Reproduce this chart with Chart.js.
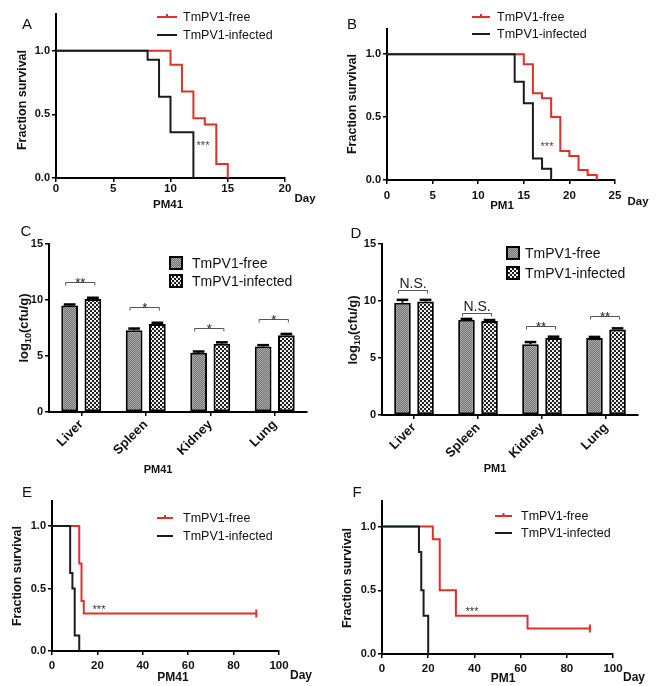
<!DOCTYPE html>
<html><head><meta charset="utf-8">
<script src="https://cdn.jsdelivr.net/npm/chart.js@4.4.1/dist/chart.umd.min.js"></script>
<style>
html,body{margin:0;padding:0;background:#fff;}
#wrap{position:relative;width:660px;height:686px;overflow:hidden;background:#fff;}
canvas{position:absolute;left:0;top:0;}
</style></head><body><div id="wrap">
<canvas id="cA" width="660" height="686"></canvas>
<canvas id="cB" width="660" height="686"></canvas>
<canvas id="cC" width="660" height="686"></canvas>
<canvas id="cD" width="660" height="686"></canvas>
<canvas id="cE" width="660" height="686"></canvas>
<canvas id="cF" width="660" height="686"></canvas>
</div>
<script>
// ---------- DATA ----------
const seriesNames = ['TmPV1-free','TmPV1-infected'];
const survTicks = [0, 0.5, 1.0];
// Panel A (PM41)
const aFreeDays = [0,10,11,12,13,14,15];
const aFreeSurv = [1,0.89,0.68,0.47,0.42,0.11,0];
const aInfDays  = [0,8,9,10,12];
const aInfSurv  = [1,0.93,0.64,0.36,0];
const aDayTicks = [0,5,10,15,20];
// Panel B (PM1)
const bFreeDays = [0,15,16,17,18,19,20,21,22,23];
const bFreeSurv = [1,0.92,0.69,0.65,0.5,0.23,0.19,0.08,0.04,0];
const bInfDays  = [0,14,15,16,17,18];
const bInfSurv  = [1,0.78,0.61,0.17,0.09,0];
const bDayTicks = [0,5,10,15,20,25];
// Panel C (PM41 organ burden)
const organs = ['Liver','Spleen','Kidney','Lung'];
const cfuTicks = [0,5,10,15];
const cFree    = [9.5,7.3,5.3,5.85];
const cInf     = [10.1,7.85,6.1,6.85];
const cFreeErr = [0.1,0.15,0.1,0.12];
const cInfErr  = [0.1,0.12,0.12,0.12];
const cSig      = ['**','*','*','*'];
const cSigLevel = [11.6,9.35,7.5,8.3];
// Panel D (PM1 organ burden)
const dFree    = [9.85,8.35,6.2,6.75];
const dInf     = [9.95,8.25,6.75,7.5];
const dFreeErr = [0.25,0.08,0.2,0.1];
const dInfErr  = [0.15,0.08,0.12,0.1];
const dSig      = ['N.S.','N.S.','**','**'];
const dSigLevel = [10.95,8.95,7.8,8.65];
// Panel E (PM41)
const eFreeDays = [0,12,13,14,90];
const eFreeSurv = [1,0.7,0.4,0.3,0.3];
const eInfDays  = [0,8,9,10,12];
const eInfSurv  = [1,0.625,0.5,0.125,0];
// Panel F (PM1)
const fFreeDays = [0,22,25,32,63,90];
const fFreeSurv = [1,0.9,0.5,0.3,0.2,0.2];
const fInfDays  = [0,16,17,18,20];
const fInfSurv  = [1,0.8,0.5,0.3,0];
const longDayTicks = [0,20,40,60,80,100];

// ---------- STYLE ----------
const FONT = "'Liberation Sans', Arial, 'DejaVu Sans', sans-serif";
const RED = '#e0302a';
const BLK = '#1c1c1c';

function makePattern(cell, c1, c2){
  const p = document.createElement('canvas');
  p.width = cell*2; p.height = cell*2;
  const g = p.getContext('2d');
  g.fillStyle = c1; g.fillRect(0,0,cell*2,cell*2);
  g.fillStyle = c2; g.fillRect(0,0,cell,cell); g.fillRect(cell,cell,cell,cell);
  return document.getElementById('cA').getContext('2d').createPattern(p,'repeat');
}
const patFree = makePattern(1,'#747474','#ababab');
const patInf  = makePattern(2,'#f2f2f2','#1e1e1e');

function pts(xs, ys){ return xs.map((x,i)=>({x:x, y:ys[i]})); }

function drawTexts(ctx, texts){
  texts.forEach(t=>{
    ctx.save();
    ctx.font = (t.bold?'bold ':'') + t.size + 'px ' + FONT;
    ctx.fillStyle = t.color || '#111';
    ctx.textAlign = t.align || 'center';
    ctx.textBaseline = t.base || 'middle';
    ctx.translate(t.x, t.y);
    if (t.rot) ctx.rotate(t.rot);
    ctx.fillText(t.text, 0, 0);
    ctx.restore();
  });
}

// rotated "log10(cfu/g)" with a true subscript
function drawLogTitle(ctx, x, y){
  ctx.save();
  ctx.translate(x, y); ctx.rotate(-Math.PI/2);
  ctx.fillStyle = '#111'; ctx.textBaseline = 'alphabetic'; ctx.textAlign = 'left';
  const big = 'bold 13px ' + FONT, small = 'bold 9px ' + FONT;
  ctx.font = big; const w1 = ctx.measureText('log').width, w3 = ctx.measureText('(cfu/g)').width;
  ctx.font = small; const w2 = ctx.measureText('10').width;
  let cx = -(w1+w2+w3)/2; const by = 5;
  ctx.font = big; ctx.fillText('log', cx, by); cx += w1;
  ctx.font = small; ctx.fillText('10', cx, by+3); cx += w2;
  ctx.font = big; ctx.fillText('(cfu/g)', cx, by);
  ctx.restore();
}

function drawLineLegend(ctx, L){
  ctx.save();
  [[RED, L.y1, seriesNames[0], true],[BLK, L.y2, seriesNames[1], false]].forEach(r=>{
    ctx.strokeStyle = r[0]; ctx.lineWidth = 2;
    ctx.beginPath(); ctx.moveTo(L.x1, r[1]); ctx.lineTo(L.x2, r[1]); ctx.stroke();
    if (r[3]) { const m=(L.x1+L.x2)/2; ctx.beginPath(); ctx.moveTo(m, r[1]); ctx.lineTo(m, r[1]-3); ctx.stroke(); }
    ctx.font = '12.5px ' + FONT; ctx.fillStyle = '#111';
    ctx.textAlign = 'left'; ctx.textBaseline = 'middle';
    ctx.fillText(r[2], L.tx, r[1]+1);
  });
  ctx.restore();
}

function drawBoxLegend(ctx, L){
  ctx.save();
  [[patFree, L.y1, seriesNames[0]],[patInf, L.y2, seriesNames[1]]].forEach(r=>{
    ctx.fillStyle = r[0]; ctx.fillRect(L.x, r[1]-6, 12, 12);
    ctx.strokeStyle = '#000'; ctx.lineWidth = 2; ctx.strokeRect(L.x, r[1]-6, 12, 12);
    ctx.font = '14px ' + FONT; ctx.fillStyle = '#111';
    ctx.textAlign = 'left'; ctx.textBaseline = 'middle';
    ctx.fillText(r[2], L.tx, r[1]+1);
  });
  ctx.restore();
}

function axisCommon(){
  return {
    grid:{display:true, drawOnChartArea:false, drawTicks:true, tickLength:4, color:'#000', lineWidth:1.5},
    border:{display:true, color:'#000', width:2}
  };
}

function survChart(id, o){
  const yw = 40, xh = 30;
  return new Chart(document.getElementById(id), {
    type:'line',
    data:{datasets:[
      {data:pts(o.infDays,o.infSurv), borderColor:BLK, borderWidth:2, stepped:true, pointRadius:0, fill:false, clip:false},
      {data:pts(o.freeDays,o.freeSurv), borderColor:RED, borderWidth:2, stepped:true, fill:false, clip:false,
       pointRadius:(c)=> (o.censor && c.dataIndex===o.freeDays.length-1) ? 4 : 0,
       pointStyle:'line', pointRotation:90, pointBorderColor:RED, pointBorderWidth:2}
    ]},
    options:{
      responsive:false, animation:false, events:[],
      layout:{padding:{left:o.l-yw, top:o.t, right:660-o.r, bottom:686-o.b-xh}},
      plugins:{legend:{display:false}, tooltip:{enabled:false}},
      scales:{
        x:Object.assign({type:'linear', min:0, max:o.xmax,
          afterFit(s){ s.height = xh; },
          afterBuildTicks(s){ s.ticks = o.xticks.map(v=>({value:v})); },
          ticks:{font:{family:FONT,size:11.5,weight:'bold'}, color:'#111', padding:o.xpad, maxRotation:0, autoSkip:false, callback:v=>String(v)}
        }, axisCommon()),
        y:Object.assign({type:'linear', min:0, max:o.ymax,
          afterFit(s){ s.width = yw; },
          afterBuildTicks(s){ s.ticks = survTicks.map(v=>({value:v})); },
          ticks:{font:{family:FONT,size:11,weight:'bold'}, color:'#111', padding:2, autoSkip:false, callback:v=>Number(v).toFixed(1)}
        }, axisCommon())
      }
    },
    plugins:[{id:'decor'+id, afterDraw(chart){ drawTexts(chart.ctx, o.texts); drawLineLegend(chart.ctx, o.legend); }}]
  });
}

function barChart(id, o){
  const yw = 40, xh = 60;
  return new Chart(document.getElementById(id), {
    type:'bar',
    data:{labels:organs, datasets:[
      {data:o.free, backgroundColor:patFree, borderColor:'#000', borderWidth:2, borderSkipped:false, categoryPercentage:0.72, barPercentage:0.72},
      {data:o.inf,  backgroundColor:patInf,  borderColor:'#000', borderWidth:2, borderSkipped:false, categoryPercentage:0.72, barPercentage:0.72}
    ]},
    options:{
      responsive:false, animation:false, events:[],
      layout:{padding:{left:o.l-yw, top:o.t, right:660-o.r, bottom:686-o.b-xh}},
      plugins:{legend:{display:false}, tooltip:{enabled:false}},
      scales:{
        x:Object.assign({type:'category', offset:true,
          afterFit(s){ s.height = xh; },
          ticks:{font:{family:FONT,size:13,weight:'bold'}, color:'#111', padding:1, minRotation:45, maxRotation:45, autoSkip:false}
        }, axisCommon(), {grid:{display:true, offset:false, drawOnChartArea:false, drawTicks:true, tickLength:4, color:'#000', lineWidth:1.5}}),
        y:Object.assign({type:'linear', min:0, max:15,
          afterFit(s){ s.width = yw; },
          afterBuildTicks(s){ s.ticks = cfuTicks.map(v=>({value:v})); },
          ticks:{font:{family:FONT,size:11,weight:'bold'}, color:'#111', padding:2, autoSkip:false, callback:v=>String(v)}
        }, axisCommon())
      }
    },
    plugins:[{id:'decor'+id,
      afterDatasetsDraw(chart){
        const ctx = chart.ctx, ys = chart.scales.y;
        ctx.save();
        [[o.free,o.freeErr],[o.inf,o.infErr]].forEach((s,di)=>{
          chart.getDatasetMeta(di).data.forEach((bar,i)=>{
            const yb = ys.getPixelForValue(s[0][i]);
            const yt = ys.getPixelForValue(s[0][i]+s[1][i]);
            const w = bar.width*0.7;
            ctx.strokeStyle='#000'; ctx.lineWidth=2;
            ctx.beginPath(); ctx.moveTo(bar.x, yb); ctx.lineTo(bar.x, yt); ctx.stroke();
            ctx.lineWidth=2.5;
            ctx.beginPath(); ctx.moveTo(bar.x-w/2, yt); ctx.lineTo(bar.x+w/2, yt); ctx.stroke();
          });
        });
        const m0 = chart.getDatasetMeta(0).data, m1 = chart.getDatasetMeta(1).data;
        o.sig.forEach((lab,i)=>{
          const x1 = m0[i].x-4, x2 = m1[i].x+2, y = Math.round(ys.getPixelForValue(o.sigLevel[i]))+0.5;
          ctx.strokeStyle='#555'; ctx.lineWidth=1;
          ctx.beginPath(); ctx.moveTo(x1,y+3); ctx.lineTo(x1,y); ctx.lineTo(x2,y); ctx.lineTo(x2,y+3); ctx.stroke();
          ctx.fillStyle='#222'; ctx.textAlign='center'; ctx.textBaseline='alphabetic';
          if (lab==='N.S.') { ctx.font='14px '+FONT; ctx.fillText(lab,(x1+x2)/2,y-3); }
          else { ctx.font='13px '+FONT; ctx.fillText(lab,(x1+x2)/2,y+4); }
        });
        ctx.restore();
      },
      afterDraw(chart){ drawTexts(chart.ctx, o.texts); drawLogTitle(chart.ctx, o.titleX, o.titleY); drawBoxLegend(chart.ctx, o.legend); }
    }]
  });
}

const R90 = -Math.PI/2;
survChart('cA', {l:56, r:285, t:14, b:178, xmax:20, ymax:1.29, xticks:aDayTicks, xpad:0,
  freeDays:aFreeDays, freeSurv:aFreeSurv, infDays:aInfDays, infSurv:aInfSurv, censor:false,
  legend:{x1:157, x2:177, tx:183, y1:17, y2:35},
  texts:[
    {text:'A', x:27, y:25, size:15},
    {text:'Fraction survival', x:23, y:100, size:12.5, bold:true, rot:R90},
    {text:'PM41', x:168, y:205, size:11.5, bold:true},
    {text:'Day', x:305, y:199, size:11.5, bold:true},
    {text:'***', x:203, y:149, size:11, color:'#444', base:'alphabetic'}
  ]});
survChart('cB', {l:387, r:615, t:29, b:180, xmax:25, ymax:1.2, xticks:bDayTicks, xpad:5,
  freeDays:bFreeDays, freeSurv:bFreeSurv, infDays:bInfDays, infSurv:bInfSurv, censor:false,
  legend:{x1:472, x2:490, tx:497, y1:17, y2:34},
  texts:[
    {text:'B', x:352, y:25, size:15},
    {text:'Fraction survival', x:353, y:104, size:12.5, bold:true, rot:R90},
    {text:'PM1', x:502, y:206, size:11.5, bold:true},
    {text:'Day', x:638, y:202, size:11.5, bold:true},
    {text:'***', x:547, y:150, size:11, color:'#444', base:'alphabetic'}
  ]});
barChart('cC', {l:49, r:307, t:244, b:412, titleX:23, titleY:328,
  free:cFree, inf:cInf, freeErr:cFreeErr, infErr:cInfErr, sig:cSig, sigLevel:cSigLevel,
  legend:{x:170, tx:192, y1:263, y2:281},
  texts:[
    {text:'C', x:26, y:232, size:15},
    {text:'PM41', x:158, y:470, size:11, bold:true}
  ]});
barChart('cD', {l:382, r:638, t:244, b:415, titleX:352, titleY:330,
  free:dFree, inf:dInf, freeErr:dFreeErr, infErr:dInfErr, sig:dSig, sigLevel:dSigLevel,
  legend:{x:507, tx:525, y1:253, y2:273},
  texts:[
    {text:'D', x:356, y:234, size:15},
    {text:'PM1', x:495, y:469, size:11, bold:true}
  ]});
survChart('cE', {l:52, r:279, t:501, b:651, xmax:100, ymax:1.2, xticks:longDayTicks, xpad:4,
  freeDays:eFreeDays, freeSurv:eFreeSurv, infDays:eInfDays, infSurv:eInfSurv, censor:true,
  legend:{x1:157, x2:173, tx:183, y1:518, y2:536},
  texts:[
    {text:'E', x:27, y:493, size:15},
    {text:'Fraction survival', x:18, y:576, size:12.5, bold:true, rot:R90},
    {text:'PM41', x:173, y:678, size:12, bold:true},
    {text:'Day', x:301, y:676, size:12, bold:true},
    {text:'***', x:99, y:613, size:11, color:'#333', base:'alphabetic'}
  ]});
survChart('cF', {l:382, r:613, t:501, b:654, xmax:100, ymax:1.2, xticks:longDayTicks, xpad:4,
  freeDays:fFreeDays, freeSurv:fFreeSurv, infDays:fInfDays, infSurv:fInfSurv, censor:true,
  legend:{x1:495, x2:512, tx:521, y1:516, y2:533},
  texts:[
    {text:'F', x:357, y:493, size:15},
    {text:'Fraction survival', x:348, y:578, size:12.5, bold:true, rot:R90},
    {text:'PM1', x:503, y:679, size:12, bold:true},
    {text:'Day', x:634, y:678, size:12, bold:true},
    {text:'***', x:472, y:615, size:11, color:'#333', base:'alphabetic'}
  ]});
</script>
</body></html>
